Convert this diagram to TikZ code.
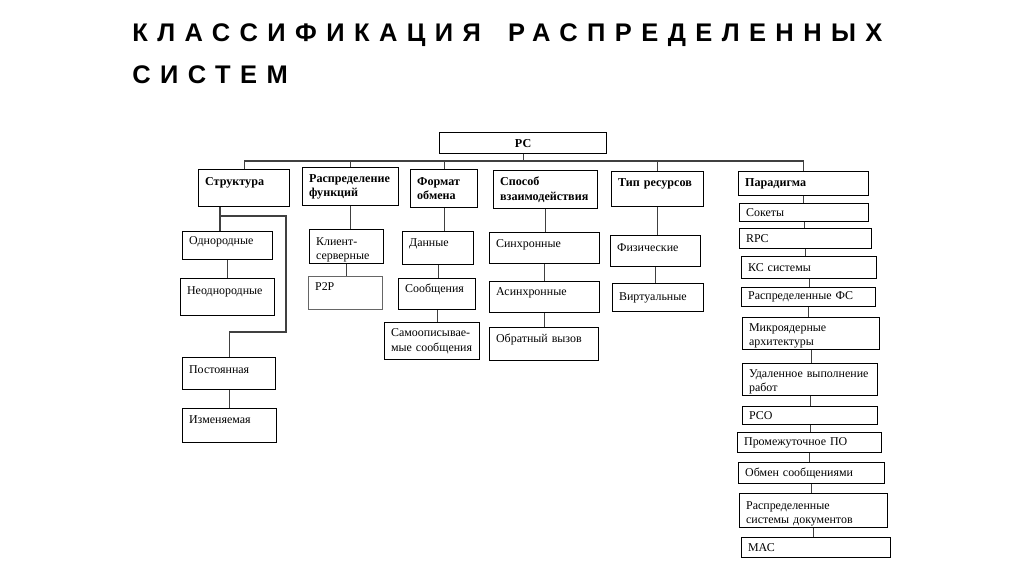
\documentclass[tikz,border=0pt]{standalone}
\usepackage{fontspec}
\setmainfont{Liberation Serif}
\newfontfamily\titlefont[LetterSpace=37]{Liberation Sans}
\usetikzlibrary{positioning}

\begin{document}
\begin{tikzpicture}[
  x=0.02cm, y=-0.02cm,
  font=\fontsize{6.8}{8.2}\selectfont,
  cell/.style={draw, line width=0.7pt, anchor=north west, align=left, inner xsep=0.13cm, inner ysep=0.02cm},
  head/.style={cell, font=\fontsize{6.9}{8.2}\selectfont\bfseries},
  lift/.style={text depth=#1},
  drop/.style={text height=#1},
  link/.style={line width=0.6pt, draw=black!75}
]
\useasboundingbox (0,0) rectangle (1024,574);

% title
\node[anchor=base west, inner sep=0pt, align=left, font=\titlefont\fontsize{14.5}{24.4}\selectfont\bfseries] (ttl) at (132,84)
  {КЛАССИФИКАЦИЯ\hspace{6pt} РАСПРЕДЕЛЕННЫХ\\СИСТЕМ};

% root and column heads
\node[head, align=center, text width=3.08cm, minimum height=0.42cm] (rc) at (439,132) {РС};
\node[head, text width=1.56cm, minimum height=0.74cm, lift=7.7pt] (str) at (198,169) {Структура};
\node[head, text width=1.66cm, minimum height=0.76cm] (rf) at (302,167) {Распределение\\функций};
\node[head, text width=1.08cm, minimum height=0.76cm] (fmt) at (410,169) {Формат\\обмена};
\node[head, text width=1.82cm, minimum height=0.76cm] (spo) at (493,170) {Способ\\взаимодействия};
\node[head, text width=1.58cm, minimum height=0.70cm, lift=7.7pt] (tip) at (611,171) {Тип ресурсов};
\node[head, text width=2.34cm, minimum height=0.48cm] (par) at (738,171) {Парадигма};

% structure
\node[cell, text width=1.54cm, minimum height=0.56cm, lift=6pt] (odn) at (182,231) {Однородные};
\node[cell, text width=1.62cm, minimum height=0.74cm, lift=7.7pt] (neo) at (180,278) {Неоднородные};
\node[cell, text width=1.60cm, minimum height=0.64cm, lift=4.5pt] (post) at (182,357) {Постоянная};
\node[cell, text width=1.62cm, minimum height=0.68cm, lift=6.8pt] (izm) at (182,408) {Изменяемая};

% functions
\node[cell, text width=1.22cm, minimum height=0.68cm, drop=8.4pt] (kli) at (309,229) {Клиент-\\серверные};
\node[cell, draw=black!60, text width=1.22cm, minimum height=0.66cm, lift=7.3pt] (p2p) at (308,276) {P2P};

% exchange format
\node[cell, text width=1.16cm, minimum height=0.66cm, lift=6.6pt] (dat) at (402,231) {Данные};
\node[cell, text width=1.28cm, minimum height=0.62cm, lift=6.6pt] (soob) at (398,278) {Сообщения};
\node[cell, text width=1.64cm, minimum height=0.74cm] (samo) at (384,322) {Самоописывае-\\мые\ сообщения};

% interaction
\node[cell, text width=1.94cm, minimum height=0.62cm, lift=5.5pt] (sin) at (489,232) {Синхронные};
\node[cell, text width=1.94cm, minimum height=0.62cm, lift=6.6pt] (asin) at (489,281) {Асинхронные};
\node[cell, text width=1.92cm, minimum height=0.66cm, lift=6.6pt] (obr) at (489,327) {Обратный вызов};

% resources
\node[cell, text width=1.54cm, minimum height=0.62cm, lift=4pt] (fiz) at (610,235) {Физические};
\node[cell, text width=1.56cm, minimum height=0.56cm] (vir) at (612,283) {Виртуальные};

% paradigm
\node[cell, text width=2.32cm, minimum height=0.36cm] (sok) at (739,203) {Сокеты};
\node[cell, text width=2.38cm, minimum height=0.40cm] (rpc) at (739,228) {RPC};
\node[cell, text width=2.44cm, minimum height=0.44cm] (ks) at (741,256) {КС системы};
\node[cell, text width=2.42cm, minimum height=0.38cm] (rfs) at (741,287) {Распределенные ФС};
\node[cell, text width=2.48cm, minimum height=0.64cm, drop=7.2pt] (mik) at (742,317) {Микроядерные\\архитектуры};
\node[cell, text width=2.44cm, minimum height=0.64cm, drop=7.2pt] (udl) at (742,363) {Удаленное выполнение\\работ};
\node[cell, text width=2.44cm, minimum height=0.36cm] (rso) at (742,406) {РСО};
\node[cell, text width=2.62cm, minimum height=0.40cm] (prm) at (737,432) {Промежуточное ПО};
\node[cell, text width=2.66cm, minimum height=0.42cm] (obm) at (738,462) {Обмен сообщениями};
\node[cell, text width=2.70cm, minimum height=0.68cm, drop=8.4pt] (rsd) at (739,493) {Распределенные\\системы документов};
\node[cell, text width=2.72cm, minimum height=0.40cm] (mac) at (741,537) {МАС};

% bus
\coordinate (bus) at (0,161);
\draw[link] (rc.south) -- (rc.south |- bus);
\draw[link] (str.north) |- (bus -| par.north) -- (par.north);
\draw[link] (rf.north) -- (rf.north |- bus);
\draw[link] (fmt.north) -- (fmt.north |- bus);
\draw[link] (tip.north) -- (tip.north |- bus);

% structure branches
\coordinate (sbr) at (220,216);
\coordinate (sbend) at (286,332);
\draw[link] (str.south -| sbr) -- (odn.north -| sbr);
\draw[link] (sbr) -| (sbend) -| (post.north);
\draw[link] (odn.south) -- (odn.south |- neo.north);
\draw[link] (post.south) -- (post.south |- izm.north);

% columns
\draw[link] (rf.south) -- (rf.south |- kli.north);
\draw[link] (kli.south) -- (kli.south |- p2p.north);
\draw[link] (fmt.south) -- (fmt.south |- dat.north);
\draw[link] (dat.south) -- (dat.south |- soob.north);
\draw[link] (soob.south) -- (soob.south |- samo.north);
\draw[link] (spo.south) -- (spo.south |- sin.north);
\draw[link] (sin.south) -- (sin.south |- asin.north);
\draw[link] (asin.south) -- (asin.south |- obr.north);
\draw[link] (tip.south) -- (tip.south |- fiz.north);
\draw[link] (fiz.south) -- (fiz.south |- vir.north);

% paradigm chain
\draw[link] (par.south) -- (par.south |- sok.north);
\draw[link] (sok.south) -- (sok.south |- rpc.north);
\draw[link] (rpc.south) -- (rpc.south |- ks.north);
\draw[link] (ks.south) -- (ks.south |- rfs.north);
\draw[link] (rfs.south) -- (rfs.south |- mik.north);
\draw[link] (mik.south) -- (mik.south |- udl.north);
\draw[link] (udl.south) -- (udl.south |- rso.north);
\draw[link] (rso.south) -- (rso.south |- prm.north);
\draw[link] (prm.south) -- (prm.south |- obm.north);
\draw[link] (obm.south) -- (obm.south |- rsd.north);
\draw[link] (rsd.south) -- (rsd.south |- mac.north);
\end{tikzpicture}
\end{document}
